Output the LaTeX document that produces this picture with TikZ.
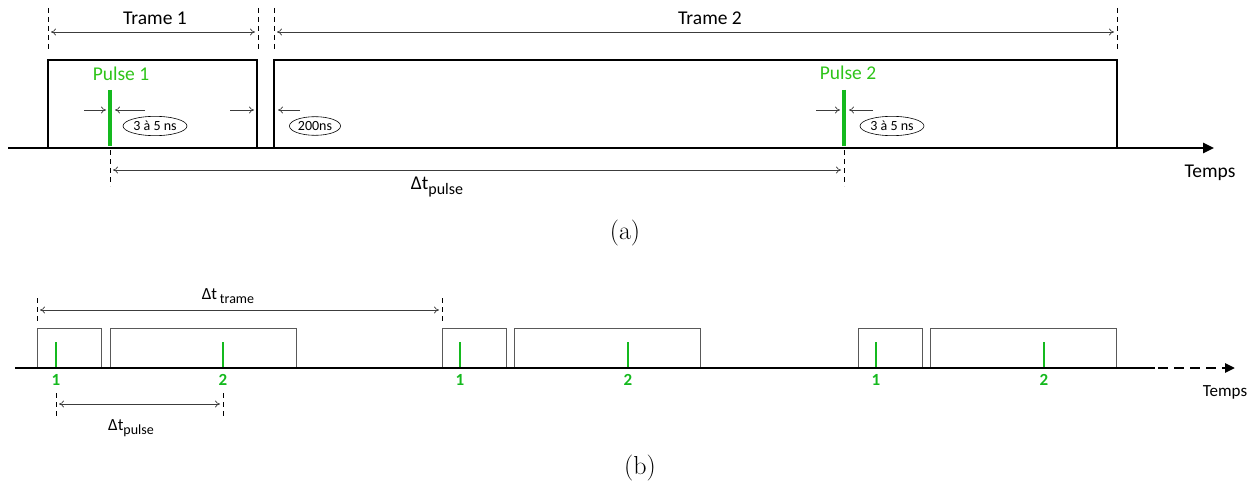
\documentclass[tikz,border=0pt]{standalone}
\usepackage{fontspec}
\newfontfamily\carl{Carlito}
\usetikzlibrary{arrows.meta,shapes.geometric}
\definecolor{pgreen}{RGB}{20,185,30}
\definecolor{dimgray}{RGB}{60,60,60}
\begin{document}
\begin{tikzpicture}[x=1pt,y=-1pt,
  every node/.style={font=\carl, inner sep=0pt, outer sep=0pt},
  axis/.style={line width=2.6pt},
  bigframe/.style={draw, line width=2.6pt, rectangle, anchor=south west},
  smallframe/.style={draw=black!65, line width=0.9pt, rectangle, anchor=south west},
  guide/.style={line width=0.7pt, dash pattern=on 5pt off 4pt},
  dimline/.style={{To[length=5pt,width=7pt]}-{To[length=5pt,width=7pt]}, line width=0.7pt, draw=dimgray},
  pin/.style={-{To[length=5pt,width=7pt]}, line width=0.7pt, draw=dimgray},
  pulsebar/.style={draw=pgreen, line width=3.6pt},
  smallbar/.style={draw=pgreen, line width=2pt},
  tag/.style={ellipse, draw, line width=0.6pt, inner xsep=1pt, inner ysep=2pt, font=\carl\fontsize{14}{14}\selectfont},
  big/.style={font=\carl\fontsize{19.5}{21}\selectfont},
  captext/.style={font=\fontsize{26}{30}\selectfont}
]
\useasboundingbox (0,0) rectangle (1257,484);

%% ---------------- panel (a) ----------------
\node[bigframe, minimum width=209pt, minimum height=88pt] (f1) at (48,148) {};
\node[bigframe, minimum width=843pt, minimum height=88pt] (f2) at (274,148) {};
\coordinate (axA0) at (8,148);
\coordinate (axA1) at (1214,148);
\draw[axis, -{Triangle[length=11pt,width=10pt]}] (axA0) -- (axA1);

% top guides
\coordinate (g1t) at (48,8);  \coordinate (g1b) at (48,50);
\coordinate (g2t) at (258,8); \coordinate (g2b) at (258,50);
\coordinate (g3t) at (274,8); \coordinate (g3b) at (274,50);
\coordinate (g4t) at (1117,8);\coordinate (g4b) at (1117,50);
\draw[guide] (g1t) -- (g1b);
\draw[guide] (g2t) -- (g2b);
\draw[guide] (g3t) -- (g3b);
\draw[guide] (g4t) -- (g4b);
\coordinate (t1a) at (51,32); \coordinate (t1b) at (255,32);
\coordinate (t2a) at (277,32); \coordinate (t2b) at (1114,32);
\draw[dimline] (t1a) -- (t1b);
\draw[dimline] (t2a) -- (t2b);
\node[big] (tr1) at (155,18) {Trame 1};
\node[big] (tr2) at (710,18) {Trame 2};

% pulses
\coordinate (p1t) at (110,90); \coordinate (p1b) at (110,146);
\coordinate (p2t) at (844,90); \coordinate (p2b) at (844,146);
\draw[pulsebar] (p1t) -- (p1b);
\draw[pulsebar] (p2t) -- (p2b);
\node[big, text=pgreen!85!lime] (pl1) at (121,74) {Pulse 1};
\node[big, text=pgreen!85!lime] (pl2) at (848,73) {Pulse 2};

% pulse width pins
\coordinate (a1s) at (84,110);  \coordinate (a1e) at (106,110);
\coordinate (a2s) at (145,110); \coordinate (a2e) at (115,110);
\coordinate (a3s) at (230,110); \coordinate (a3e) at (254,110);
\coordinate (a4s) at (300,110); \coordinate (a4e) at (278,110);
\coordinate (a5s) at (816,110); \coordinate (a5e) at (840,110);
\coordinate (a6s) at (873,110); \coordinate (a6e) at (849,110);
\draw[pin] (a1s) -- (a1e);
\draw[pin] (a2s) -- (a2e);
\draw[pin] (a3s) -- (a3e);
\draw[pin] (a4s) -- (a4e);
\draw[pin] (a5s) -- (a5e);
\draw[pin] (a6s) -- (a6e);
\node[tag] (w1) at (155,126) {3 à 5 ns};
\node[tag] (w0) at (315,126) {200ns};
\node[tag] (w2) at (892,126) {3 à 5 ns};

% delta t pulse
\coordinate (d1t) at (110,150); \coordinate (d1b) at (110,186);
\coordinate (d2t) at (844,150); \coordinate (d2b) at (844,186);
\draw[guide] (d1t) -- (d1b);
\draw[guide] (d2t) -- (d2b);
\coordinate (dpa) at (113,170); \coordinate (dpb) at (841,170);
\draw[dimline] (dpa) -- (dpb);
\node[big] (dtp) at (437,187) {Δt\raisebox{-0.45ex}{\fontsize{16}{16}\selectfont pulse}};
\node[big, anchor=center] (tempsA) at (1210,173) {Temps};
\node[captext] (capa) at (625,233) {(a)};

%% ---------------- panel (b) ----------------
\node[smallframe, minimum width=64pt, minimum height=40pt] (b1a) at (37,368) {};
\node[smallframe, minimum width=186pt, minimum height=40pt] (b1b) at (110,368) {};
\node[smallframe, minimum width=64pt, minimum height=40pt] (b2a) at (442,368) {};
\node[smallframe, minimum width=186pt, minimum height=40pt] (b2b) at (514,368) {};
\node[smallframe, minimum width=64pt, minimum height=40pt] (b3a) at (858,368) {};
\node[smallframe, minimum width=186pt, minimum height=40pt] (b3b) at (930,368) {};

\coordinate (axB0) at (15,368);
\coordinate (axB1) at (1155,368);
\coordinate (axB2) at (1158,368);
\coordinate (axB3) at (1235,368);
\draw[axis] (axB0) -- (axB1);
\draw[axis, dash pattern=on 10pt off 6pt, -{Triangle[length=10pt,width=9pt]}] (axB2) -- (axB3);

\foreach \x/\n in {56/1,223/2,460/1,628/2,876/1,1044/2}{
  \draw[smallbar] (\x,342) -- (\x,367);
  \node[font=\carl\bfseries\fontsize{17}{17}\selectfont, text=pgreen] at (\x,380) {\n};
}

% delta t trame
\coordinate (h1t) at (37,298); \coordinate (h1b) at (37,324);
\coordinate (h2t) at (442,298); \coordinate (h2b) at (442,324);
\draw[guide] (h1t) -- (h1b);
\draw[guide] (h2t) -- (h2b);
\coordinate (dta) at (40,310); \coordinate (dtb) at (439,310);
\draw[dimline] (dta) -- (dtb);
\node[font=\carl\fontsize{17}{18}\selectfont] (dtt) at (228,296) {Δt\,\raisebox{-0.45ex}{\fontsize{14}{14}\selectfont trame}};

% delta t pulse (b)
\coordinate (k1t) at (56,393); \coordinate (k1b) at (56,416);
\coordinate (k2t) at (223,393); \coordinate (k2b) at (223,416);
\draw[guide] (k1t) -- (k1b);
\draw[guide] (k2t) -- (k2b);
\coordinate (dqa) at (59,404); \coordinate (dqb) at (220,404);
\draw[dimline] (dqa) -- (dqb);
\node[font=\carl\fontsize{17}{18}\selectfont] (dtq) at (131,428) {Δt\raisebox{-0.45ex}{\fontsize{14}{14}\selectfont pulse}};

\node[font=\carl\fontsize{17}{18}\selectfont] (tempsB) at (1225,392) {Temps};
\node[captext] (capb) at (640,468) {(b)};
\end{tikzpicture}
\end{document}
